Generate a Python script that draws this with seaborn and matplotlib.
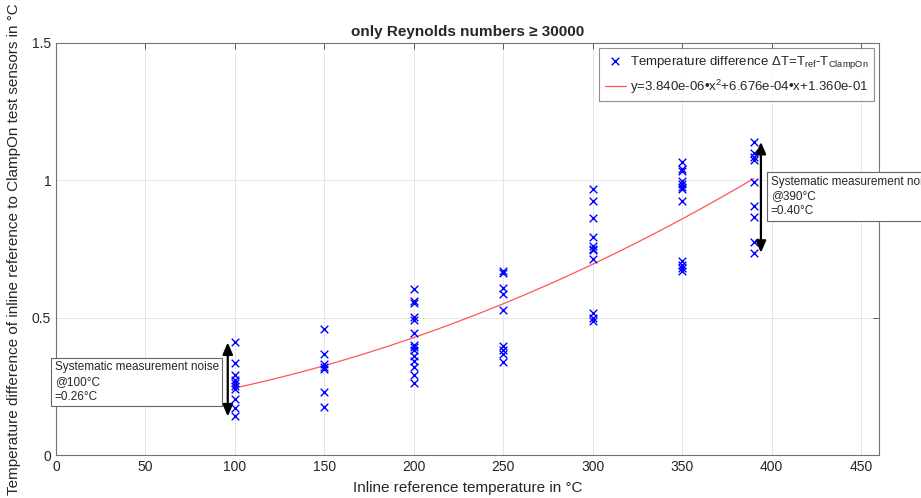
import numpy as np
import pandas as pd
import matplotlib
matplotlib.use('Agg')
import matplotlib.pyplot as plt
import seaborn as sns

# Measured temperature differences (degC) per inline reference temperature
dt_100 = [0.41, 0.335, 0.292, 0.274, 0.263, 0.252, 0.24, 0.204, 0.171, 0.142]
dt_150 = [0.46, 0.366, 0.332, 0.321, 0.314, 0.23, 0.175]
dt_200 = [0.605, 0.56, 0.553, 0.501, 0.493, 0.444, 0.401, 0.393, 0.383, 0.359, 0.341, 0.32, 0.291, 0.262]
dt_250 = [0.669, 0.661, 0.608, 0.588, 0.529, 0.398, 0.383, 0.369, 0.337]
dt_300 = [0.967, 0.925, 0.864, 0.795, 0.760, 0.751, 0.746, 0.714, 0.517, 0.499, 0.487]
dt_350 = [1.065, 1.043, 1.034, 0.998, 0.985, 0.977, 0.970, 0.925, 0.705, 0.693, 0.681, 0.669]
dt_390 = [1.14, 1.10, 1.086, 1.074, 0.994, 0.906, 0.867, 0.775, 0.736]
temperatures = [100, 150, 200, 250, 300, 350, 390]

# Noise ranges shown by the arrows
noise_100 = [0.14, 0.41]
noise_390 = [0.736, 1.14]

x_ticks = [0, 50, 100, 150, 200, 250, 300, 350, 400, 450]
y_ticks = [0, 0.5, 1, 1.5]
y_tick_labels = ['0', '0.5', '1', '1.5']

groups = [dt_100, dt_150, dt_200, dt_250, dt_300, dt_350, dt_390]
df = pd.DataFrame({
    'T_ref': np.concatenate([[t] * len(g) for t, g in zip(temperatures, groups)]),
    'dT': np.concatenate(groups),
})

sns.set_style('white')
plt.rcParams['font.family'] = ['Liberation Sans', 'DejaVu Sans']
plt.rcParams['mathtext.fontset'] = 'custom'
plt.rcParams['mathtext.rm'] = 'Liberation Sans'
plt.rcParams['mathtext.it'] = 'Liberation Sans:italic'
plt.rcParams['mathtext.bf'] = 'Liberation Sans:bold'

fig = plt.figure(figsize=(9.21, 4.98), dpi=100)
ax = fig.add_axes([0.0608, 0.0863, 0.8936, 0.8274])

# Scatter of measurements
sns.scatterplot(data=df, x='T_ref', y='dT', marker='x', color='blue', s=30, linewidth=1.0,
                label=r'Temperature difference $\Delta$T=T$_{\rm ref}$-T$_{\rm ClampOn}$', ax=ax, zorder=3)

# Quadratic fit
sns.regplot(data=df, x='T_ref', y='dT', order=2, ci=None, scatter=False, ax=ax,
            line_kws={'color': '#ff5555', 'lw': 0.9})
ax.lines[-1].set_label('y=3.840e-06\u2022x$^2$+6.676e-04\u2022x+1.360e-01')

ax.set_xlim(0, 460)
ax.set_ylim(0, 1.5)
ax.set_xticks(x_ticks)
ax.set_yticks(y_ticks)
ax.set_yticklabels(y_tick_labels)
ax.grid(True, color='0.9', lw=0.7)
ax.tick_params(direction='in', top=True, right=True, length=4, width=0.7,
               color='0.35', labelcolor='0.15', labelsize=10)
for s in ax.spines.values():
    s.set_color('0.45')
    s.set_linewidth(0.8)

ax.set_xlabel('Inline reference temperature in \u00b0C', fontsize=11, color='0.15', labelpad=5)
ax.set_ylabel('Temperature difference of inline reference to ClampOn test sensors in \u00b0C',
              fontsize=11, color='0.15', labelpad=8)
ax.set_title('only Reynolds numbers \u2265 30000', fontsize=11, fontweight='bold', pad=5)

leg = ax.legend(loc='upper right', fontsize=9.5, frameon=True, fancybox=False,
                edgecolor='0.45', borderaxespad=0.4, handlelength=1.6, handletextpad=0.3,
                labelspacing=0.55)
leg.get_frame().set_linewidth(0.8)

# Noise arrows and text boxes
arrow_kw = dict(arrowstyle='<|-|>,head_width=0.3,head_length=0.7', color='black', lw=1.6,
                shrinkA=0, shrinkB=0)
ax.annotate('', xy=(96, noise_100[1]), xytext=(96, noise_100[0]), arrowprops=arrow_kw, zorder=4)
ax.annotate('', xy=(394, noise_390[1]), xytext=(394, noise_390[0]), arrowprops=arrow_kw,
            annotation_clip=False, zorder=4)

box_kw = dict(boxstyle='square,pad=0.3', facecolor='white', edgecolor='0.4', lw=0.8)
ax.text(91, 0.266, 'Systematic measurement noise\n@100\u00b0C\n=0.26\u00b0C', ha='right', va='center',
        multialignment='left', fontsize=8.5, linespacing=1.3, bbox=box_kw, zorder=5)
ax.text(399.5, 0.941, 'Systematic measurement noise\n@390\u00b0C\n=0.40\u00b0C', ha='left', va='center',
        multialignment='left', fontsize=8.5, linespacing=1.3, bbox=box_kw, zorder=5, clip_on=False)

plt.savefig('out.png', dpi=100)
